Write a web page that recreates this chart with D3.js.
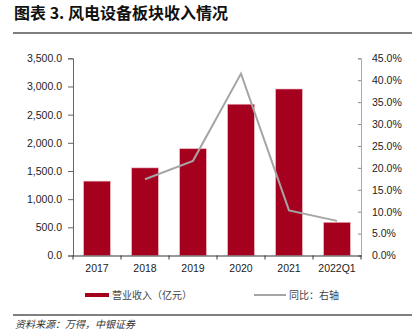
<!DOCTYPE html>
<html><head><meta charset="utf-8">
<script src="https://cdn.jsdelivr.net/npm/d3@7"></script>
<style>
body{margin:0;background:#fff;}
svg{display:block;}
</style></head>
<body>
<script>
const categories = ["2017","2018","2019","2020","2021","2022Q1"];
const revenue = [1320, 1555, 1895, 2685, 2955, 589];
const yoyCats = ["2018","2019","2020","2021","2022Q1"];
const yoy = [17.4, 21.6, 41.5, 10.3, 7.9];
const leftTicks = [0,500,1000,1500,2000,2500,3000,3500];
const rightTicks = [0,5,10,15,20,25,30,35,40,45];
const title = "图表 3. 风电设备板块收入情况";
const legendBar = "营业收入（亿元）";
const legendLine = "同比：右轴";
const source = "资料来源：万得，中银证券";

const W = 420, H = 336;
const svg = d3.select("body").append("svg").attr("width", W).attr("height", H);
const L = 73, R = 361, T = 58.3, B = 255.5;

const xb = d3.scaleBand().domain(categories).range([L, R]);
const yL = d3.scaleLinear().domain([0, 3500]).range([B, T]);
const yR = d3.scaleLinear().domain([0, 45]).range([B, T]);

const fontLat = "Arial, 'Liberation Sans', sans-serif";
const fontCJK = "'Noto Sans CJK SC', sans-serif";

// title
svg.append("text").attr("x", 14).attr("y", 19).attr("font-family", fontCJK)
  .attr("font-weight", "bold").attr("font-size", 16).attr("fill", "#111").text(title);
svg.append("line").attr("x1", 13).attr("x2", 412).attr("y1", 33).attr("y2", 33)
  .attr("stroke", "#555").attr("stroke-width", 1.5);

// bars
const barW = 26.7;
svg.append("g").selectAll("rect").data(categories).join("rect")
  .attr("x", d => xb(d) + (xb.bandwidth() - barW) / 2)
  .attr("width", barW)
  .attr("y", (d, i) => yL(revenue[i]))
  .attr("height", (d, i) => B - yL(revenue[i]))
  .attr("fill", "#A6001F")
  .attr("stroke", "#e9b4bf").attr("stroke-width", 0.6);

// line
const line = d3.line().x((d, i) => xb(yoyCats[i]) + xb.bandwidth() / 2).y(d => yR(d));
svg.append("path").datum(yoy).attr("d", line).attr("fill", "none")
  .attr("stroke", "#a5a5a5").attr("stroke-width", 2);

// left axis
const gL = svg.append("g").attr("transform", `translate(${L},0)`)
  .call(d3.axisLeft(yL).tickValues(leftTicks).tickSize(5).tickPadding(6).tickFormat(d3.format(",.1f")));
gL.select(".domain").attr("stroke", "#666");
gL.selectAll(".tick line").attr("stroke", "#666");
gL.selectAll("text").attr("font-family", fontLat).attr("font-size", 10.5).attr("fill", "#222");

// right axis
const gR = svg.append("g").attr("transform", `translate(${R},0)`)
  .call(d3.axisRight(yR).tickValues(rightTicks).tickSize(-3).tickPadding(11).tickFormat(d => d.toFixed(1) + "%"));
gR.select(".domain").attr("stroke", "#aaa");
gR.selectAll(".tick line").attr("stroke", "#888");
gR.selectAll("text").attr("font-family", fontLat).attr("font-size", 10.5).attr("fill", "#222");

// x axis
const gX = svg.append("g").attr("transform", `translate(0,${B})`)
  .call(d3.axisBottom(xb).tickSize(0).tickPadding(9));
gX.select(".domain").attr("stroke", "#333");
gX.selectAll("text").attr("font-family", fontLat).attr("font-size", 10.5).attr("fill", "#222");
const bounds = categories.map(c => xb(c)).concat([R]);
svg.append("g").selectAll("line").data(bounds).join("line")
  .attr("x1", d => d).attr("x2", d => d).attr("y1", B).attr("y2", B + 4)
  .attr("stroke", "#333");

// legend
svg.append("rect").attr("x", 85).attr("y", 293).attr("width", 24).attr("height", 4).attr("fill", "#A6001F");
svg.append("text").attr("x", 112).attr("y", 299).attr("font-family", fontCJK)
  .attr("font-size", 10).attr("fill", "#444").text(legendBar);
svg.append("line").attr("x1", 254).attr("x2", 286).attr("y1", 295).attr("y2", 295)
  .attr("stroke", "#a5a5a5").attr("stroke-width", 2);
svg.append("text").attr("x", 289).attr("y", 299).attr("font-family", fontCJK)
  .attr("font-size", 10).attr("fill", "#444").text(legendLine);

// bottom rule and source
svg.append("line").attr("x1", 13).attr("x2", 412).attr("y1", 315).attr("y2", 315)
  .attr("stroke", "#555").attr("stroke-width", 1.5);
svg.append("text").attr("x", 15).attr("y", 328).attr("font-family", fontCJK)
  .attr("font-style", "italic").attr("font-size", 10).attr("fill", "#333").text(source);
</script>
</body></html>
